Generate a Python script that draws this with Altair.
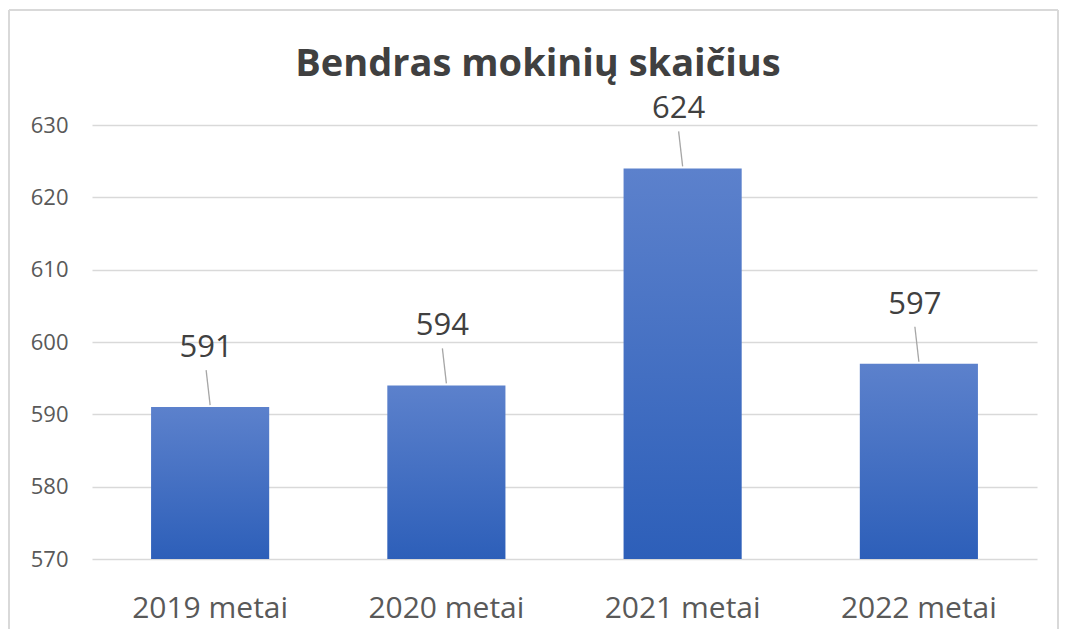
import altair as alt
import pandas as pd

categories = ["2019 metai", "2020 metai", "2021 metai", "2022 metai"]
values = [591, 594, 624, 597]
y_ticks = [570, 580, 590, 600, 610, 620, 630]
title_text = "Bendras mokinių skaičius"

df = pd.DataFrame({"metai": categories, "mokiniai": values})

FONT = "Open Sans"

x_enc = alt.X("metai:N", sort=categories,
              scale=alt.Scale(paddingInner=0.5, paddingOuter=0.25),
              axis=alt.Axis(title=None, labelAngle=0, labelFontSize=30, labelFont=FONT,
                            labelColor="#595959", labelBaseline="alphabetic",
                            labelPadding=58, ticks=False, domain=False, grid=False))
y_enc = alt.Y("mokiniai:Q",
              scale=alt.Scale(domain=[570, 630], zero=False, nice=False),
              axis=alt.Axis(title=None, values=y_ticks, labelFontSize=22, labelFont=FONT,
                            labelColor="#595959", labelPadding=24, ticks=False, domain=False,
                            grid=True, gridColor="#d9d9d9", gridWidth=1.5))

base = alt.Chart(df)

bars = base.mark_bar(
    color=alt.Gradient(
        gradient="linear",
        stops=[alt.GradientStop(color="#5c81cc", offset=0),
               alt.GradientStop(color="#2d5fb9", offset=1)],
        x1=1, x2=1, y1=0, y2=1),
).encode(x=x_enc, y=y_enc, y2=alt.datum(570))

leaders = base.mark_rule(color="#a6a6a6", strokeWidth=1.3, yOffset=-2, y2Offset=-37,
                         x2Offset=-4).encode(
    x=alt.X("metai:N", sort=categories), x2=alt.X2("metai:N"),
    y="mokiniai:Q", y2=alt.Y2("mokiniai:Q"))

labels = base.mark_text(fontSize=31, font=FONT, color="#404040", dy=-59, dx=-4,
                        baseline="middle", align="center").encode(
    x=alt.X("metai:N", sort=categories), y="mokiniai:Q", text="mokiniai:Q")

one = pd.DataFrame({"t": [title_text]})
title = alt.Chart(one).mark_text(font=FONT, fontSize=38, fontWeight="bold", color="#404040",
                                 align="center", baseline="alphabetic").encode(
    x=alt.value(446), y=alt.value(-49), text="t:N")

bstyle = dict(color="#d9d9d9", strokeWidth=2)
border_left = alt.Chart(one).mark_rule(**bstyle).encode(
    x=alt.value(-83), y=alt.value(-115), y2=alt.value(520))
border_top = alt.Chart(one).mark_rule(**bstyle).encode(
    x=alt.value(-83), x2=alt.value(966), y=alt.value(-115))
border_right = alt.Chart(one).mark_rule(**bstyle).encode(
    x=alt.value(966), y=alt.value(-115), y2=alt.value(520))

chart = alt.layer(bars, leaders, labels, title, border_left, border_top, border_right).properties(
    width=945, height=434,
    autosize=alt.AutoSizeParams(type="none"),
    padding={"left": 84, "top": 117, "right": 22, "bottom": 70},
    background="white",
).configure_view(strokeWidth=0)

chart.save("out.html", embed_options={"renderer": "svg", "actions": False})
